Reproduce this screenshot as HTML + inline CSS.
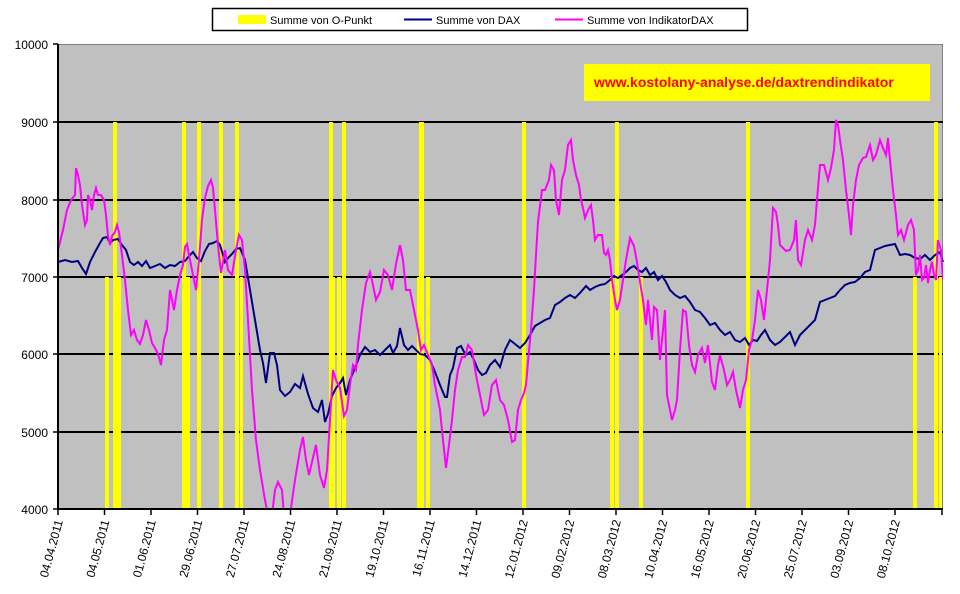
<!DOCTYPE html>
<html><head><meta charset="utf-8"><style>body{margin:0;background:#fff}svg{display:block;font-family:"Liberation Sans",Arial,sans-serif}</style></head><body>
<svg width="960" height="594" viewBox="0 0 960 594">
<rect x="58" y="44" width="885" height="465" fill="#c0c0c0"/>
<line x1="58" y1="44.5" x2="943" y2="44.5" stroke="#808080" stroke-width="1"/>
<line x1="942.5" y1="44" x2="942.5" y2="509" stroke="#808080" stroke-width="1"/>
<g stroke="#000" stroke-width="2">
<line x1="58" y1="122" x2="943" y2="122"/><line x1="58" y1="200" x2="943" y2="200"/>
<line x1="58" y1="277" x2="943" y2="277"/><line x1="58" y1="354" x2="943" y2="354"/>
<line x1="58" y1="432" x2="943" y2="432"/>
</g>
<g fill="#ffff00">
<rect x="105" y="277" width="4" height="232"/><rect x="113" y="122" width="4" height="387"/><rect x="116" y="277" width="5" height="232"/>
<rect x="182" y="122" width="4" height="387"/><rect x="185" y="277" width="5" height="232"/><rect x="197" y="122" width="4" height="387"/>
<rect x="219" y="122" width="4" height="387"/><rect x="235" y="122" width="4" height="387"/><rect x="240" y="277" width="3" height="232"/>
<rect x="329" y="122" width="4" height="387"/><rect x="332" y="277" width="3" height="232"/><rect x="337" y="277" width="4" height="232"/><rect x="342" y="122" width="4" height="387"/>
<rect x="419" y="122" width="5" height="387"/><rect x="417" y="277" width="4" height="232"/><rect x="426" y="277" width="4" height="232"/>
<rect x="522" y="122" width="4" height="387"/>
<rect x="610" y="277" width="4" height="232"/><rect x="615" y="122" width="4" height="387"/><rect x="639" y="277" width="4" height="232"/>
<rect x="746" y="122" width="4" height="387"/>
<rect x="913" y="277" width="4" height="232"/><rect x="934" y="122" width="4" height="387"/><rect x="939" y="277" width="3" height="232"/>
</g>
<polyline fill="none" stroke="#000080" stroke-width="2" points="58,262 65,260 72,262 78,261 82,268 86,274 90,262 95,252 100,243 103,238 107,237 110,243 113,240 118,239 122,245 126,250 130,262 134,265 138,262 142,266 146,261 150,268 155,266 160,264 165,268 170,265 175,266 180,262 185,261 189,256 193,252 197,258 201,261 205,251 209,244 213,243 217,241 220,245 225,262 228,258 232,254 236,249 240,248 245,260 250,290 255,320 260,350 263,363 266,383 270,353 274,353 277,365 280,390 285,396 290,392 295,384 300,388 303,376 308,394 313,408 318,412 322,400 325,422 328,414 332,396 336,388 340,383 343,378 346,395 350,380 355,368 360,355 365,347 370,352 375,350 380,355 385,350 390,345 393,353 397,346 400,328 404,345 408,350 412,346 416,350 420,354 425,355 430,360 435,372 440,385 445,397 447,397 450,375 453,368 457,348 461,346 463,350 466,355 470,352 474,360 478,370 482,375 486,373 490,365 495,360 500,367 505,350 510,340 515,344 520,348 525,343 530,335 535,326 540,323 545,320 550,318 555,305 560,302 565,298 570,295 575,298 580,293 586,286 590,290 595,287 600,285 605,284 610,280 614,276 618,278 622,275 626,272 630,268 634,266 638,270 642,272 646,268 650,275 654,272 658,280 662,276 666,282 670,290 675,295 680,298 685,296 690,302 695,310 700,312 705,318 710,325 715,323 720,330 725,335 730,332 735,340 740,342 745,338 749,345 753,340 757,341 761,335 765,330 770,340 775,345 780,342 785,337 790,332 795,345 800,335 805,330 810,325 815,320 820,302 825,300 830,298 835,296 840,290 845,285 850,283 855,282 860,278 865,272 870,270 875,250 880,248 885,246 890,245 895,244 900,255 905,254 910,255 915,258 920,259 925,255 930,260 935,255 940,252 943,262"/>
<svg x="58" y="44" width="885" height="465" viewBox="58 44 885 465" overflow="hidden">
<polyline fill="none" stroke="#ff00ff" stroke-width="2" points="58,250 63,230 67,210 71,200 75,195 76,168 78,175 80,185 82,205 85,225 87,220 88,195 90,200 92,210 94,195 96,188 98,195 101,195 104,200 106,215 108,236 110,245 112,236 115,232 117,225 119,232 122,255 125,280 128,310 131,335 134,330 137,340 140,344 143,335 146,320 149,330 152,343 155,348 158,354 161,365 164,340 167,330 170,290 172,300 174,310 177,290 180,275 183,265 185,247 187,244 190,260 193,275 196,290 199,260 202,220 205,198 208,186 211,180 213,188 215,210 218,245 221,273 223,262 225,250 228,270 232,275 236,250 239,235 242,240 245,270 248,320 252,390 256,440 260,470 265,500 268,515 272,515 275,490 278,482 282,490 284,515 290,515 295,480 300,450 303,437 306,460 309,475 312,462 316,445 320,475 324,488 327,470 330,420 333,370 336,380 340,388 344,416 347,410 350,385 353,365 356,370 358,345 362,310 366,283 370,272 373,285 376,300 380,292 384,270 388,275 392,290 396,264 400,245 403,260 406,290 410,290 414,310 418,330 421,350 424,345 428,355 432,365 435,385 440,410 443,440 446,468 449,445 452,420 455,390 458,370 462,357 465,357 468,345 472,350 476,375 480,395 484,415 488,410 492,385 496,380 500,400 504,405 508,420 512,442 515,440 518,410 521,400 524,393 526,385 528,362 531,330 534,290 536,255 538,222 542,190 545,190 549,180 551,165 554,170 556,200 559,215 562,180 565,170 568,145 571,140 573,160 576,175 579,185 581,200 583,208 585,218 588,210 591,205 593,220 595,240 598,235 602,235 604,253 606,255 608,250 610,260 612,280 615,300 617,310 620,300 623,280 626,260 630,238 634,246 637,262 640,282 643,300 646,325 648,300 650,320 652,340 654,307 657,310 660,360 663,330 665,310 667,395 670,410 672,420 675,410 677,400 680,350 683,310 686,312 689,345 692,365 695,372 698,355 702,348 705,363 708,345 712,382 715,390 718,365 720,355 724,370 727,385 730,380 733,372 736,390 740,408 743,390 746,380 749,350 752,340 755,320 758,290 761,300 764,320 767,290 770,260 773,208 776,212 778,225 780,245 783,248 786,251 790,250 794,240 796,220 798,260 801,265 805,240 808,230 812,240 815,225 817,200 820,165 824,165 828,180 831,168 834,150 836,120 838,125 840,140 843,160 846,190 849,215 851,235 853,205 856,180 859,165 863,158 866,157 870,145 873,160 876,155 880,140 883,148 886,155 888,138 890,160 893,190 896,215 898,235 901,230 904,240 908,225 911,220 914,230 916,275 918,270 920,255 922,280 924,278 926,265 928,283 930,270 932,262 934,275 936,280 938,240 941,250 943,280"/>
</svg>
<line x1="58" y1="44" x2="58" y2="510" stroke="#000" stroke-width="2"/>
<line x1="57" y1="509" x2="943" y2="509" stroke="#000" stroke-width="2"/>
<g stroke="#000" stroke-width="1.5">
<line x1="53" y1="44" x2="58" y2="44"/><line x1="53" y1="122" x2="58" y2="122"/><line x1="53" y1="200" x2="58" y2="200"/><line x1="53" y1="277" x2="58" y2="277"/><line x1="53" y1="354" x2="58" y2="354"/><line x1="53" y1="432" x2="58" y2="432"/><line x1="53" y1="509" x2="58" y2="509"/>
</g>
<g font-size="12" text-anchor="end" fill="#000">
<text x="48" y="49">10000</text><text x="48" y="127">9000</text><text x="48" y="205">8000</text><text x="48" y="282">7000</text><text x="48" y="359">6000</text><text x="48" y="437">5000</text><text x="48" y="514">4000</text>
</g>
<g stroke="#000" stroke-width="1.5">
<line x1="58" y1="509" x2="58" y2="515"/><line x1="104.5" y1="509" x2="104.5" y2="515"/><line x1="151" y1="509" x2="151" y2="515"/><line x1="197.5" y1="509" x2="197.5" y2="515"/><line x1="244" y1="509" x2="244" y2="515"/><line x1="290.5" y1="509" x2="290.5" y2="515"/><line x1="337" y1="509" x2="337" y2="515"/><line x1="383.5" y1="509" x2="383.5" y2="515"/><line x1="430" y1="509" x2="430" y2="515"/><line x1="476.5" y1="509" x2="476.5" y2="515"/><line x1="523" y1="509" x2="523" y2="515"/><line x1="569.5" y1="509" x2="569.5" y2="515"/><line x1="616" y1="509" x2="616" y2="515"/><line x1="662.5" y1="509" x2="662.5" y2="515"/><line x1="709" y1="509" x2="709" y2="515"/><line x1="755.5" y1="509" x2="755.5" y2="515"/><line x1="802" y1="509" x2="802" y2="515"/><line x1="848.5" y1="509" x2="848.5" y2="515"/><line x1="895" y1="509" x2="895" y2="515"/><line x1="942" y1="509" x2="942" y2="515"/>
</g>
<g font-size="12" text-anchor="end" fill="#000">
<text transform="translate(63,521) rotate(-75)">04.04.2011</text>
<text transform="translate(109.5,521) rotate(-75)">04.05.2011</text>
<text transform="translate(156,521) rotate(-75)">01.06.2011</text>
<text transform="translate(202.5,521) rotate(-75)">29.06.2011</text>
<text transform="translate(249,521) rotate(-75)">27.07.2011</text>
<text transform="translate(295.5,521) rotate(-75)">24.08.2011</text>
<text transform="translate(342,521) rotate(-75)">21.09.2011</text>
<text transform="translate(388.5,521) rotate(-75)">19.10.2011</text>
<text transform="translate(435,521) rotate(-75)">16.11.2011</text>
<text transform="translate(481.5,521) rotate(-75)">14.12.2011</text>
<text transform="translate(528,521) rotate(-75)">12.01.2012</text>
<text transform="translate(574.5,521) rotate(-75)">09.02.2012</text>
<text transform="translate(621,521) rotate(-75)">08.03.2012</text>
<text transform="translate(667.5,521) rotate(-75)">10.04.2012</text>
<text transform="translate(714,521) rotate(-75)">16.05.2012</text>
<text transform="translate(760.5,521) rotate(-75)">20.06.2012</text>
<text transform="translate(807,521) rotate(-75)">25.07.2012</text>
<text transform="translate(853.5,521) rotate(-75)">03.09.2012</text>
<text transform="translate(900,521) rotate(-75)">08.10.2012</text>
</g>
<rect x="584" y="64" width="346" height="37" fill="#ffff00"/>
<text x="594" y="87" font-size="14" font-weight="bold" fill="#ff0000">www.kostolany-analyse.de/daxtrendindikator</text>
<rect x="212.5" y="8.5" width="535" height="22" fill="#fff" stroke="#000" stroke-width="1.5"/>
<rect x="238" y="15" width="28" height="9" fill="#ffff00"/>
<text x="270" y="24" font-size="11">Summe von O-Punkt</text>
<line x1="404" y1="19.5" x2="432" y2="19.5" stroke="#000080" stroke-width="2"/>
<text x="436" y="24" font-size="11">Summe von DAX</text>
<line x1="555" y1="19.5" x2="583" y2="19.5" stroke="#ff00ff" stroke-width="2"/>
<text x="587" y="24" font-size="11">Summe von IndikatorDAX</text>
</svg>
</body></html>
